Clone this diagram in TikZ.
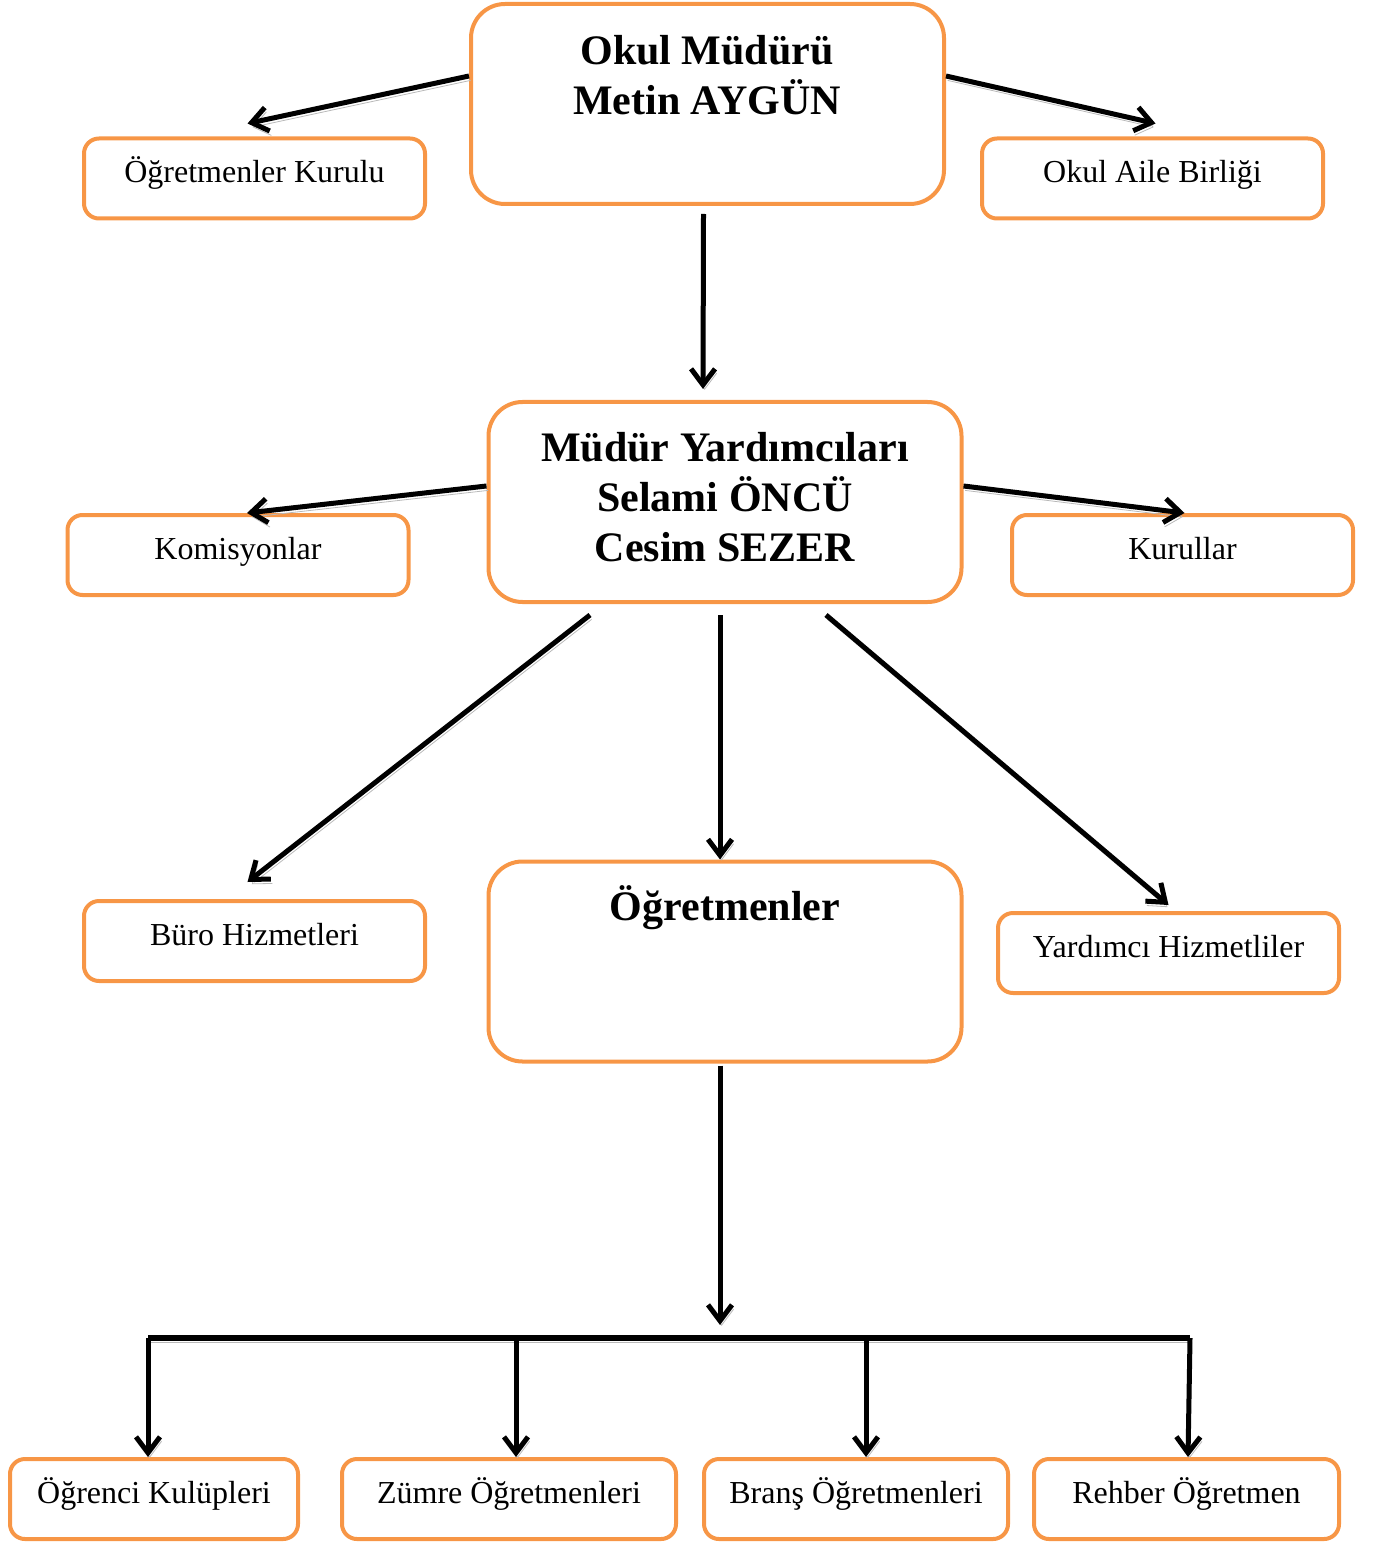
\documentclass[tikz,border=0pt]{standalone}
\usepackage{fontspec}
\setmainfont{Liberation Serif}
\usetikzlibrary{arrows.meta}
\definecolor{turuncu}{HTML}{F79646}
\begin{document}
\begin{tikzpicture}[x=0.5pt,y=-0.5pt]
        \tikzstyle{box} = [draw=turuncu, line width=2pt, rounded corners=7.5pt, minimum width=170.5pt, minimum height=40pt, inner sep=0pt, text height=10pt, text depth=6pt, font=\fontsize{16}{19}\selectfont]
        \tikzstyle{bigbox} = [box, rounded corners=17pt, minimum width=236.5pt, minimum height=100pt]
        \tikzstyle{title} = [align=center, inner sep=0pt, font=\fontsize{21}{25}\selectfont\bfseries]
        \tikzstyle{blk} = [draw, black, line width=2.5pt, -{Straight Barb[length=8pt,width=12pt]}, preaction={draw=gray!55, transform canvas={xshift=0.8pt,yshift=-2.2pt}}]
        \useasboundingbox (0,0) rectangle (1374,1545);
        
        \node[bigbox] (okul mudur) at (707.5,104) {};
        \node[title] (okul mudur adi) at (707,75) {Okul Müdürü\\Metin AYGÜN};
        \node[box] (ogretmenler kurulu) at (254.5,178.5) {Öğretmenler Kurulu};
        \node[box] (okul aile birligi) at (1152.5,178.5) {Okul Aile Birliği};
        
        \node[bigbox] (mudur yardimcilari) at (725,502) {};
        \node[title] (mudur yardimcilari adlari) at (725,497) {Müdür Yardımcıları\\Selami ÖNCÜ\\Cesim SEZER};
        \node[box] (komisyonlar) at (238,555) {Komisyonlar};
        \node[box] (kurullar) at (1182.5,555) {Kurullar};
        
        \node[box] (buro hizmetleri) at (254.5,941) {Büro Hizmetleri};
        \node[bigbox] (ogretmenler) at (725,961.5) {};
        \node[title] (ogretmenler adi) at (725,908) {Öğretmenler};
        \node[box] (yardimci hizmetliler) at (1168.5,953) {Yardımcı Hizmetliler};
        
        \node[box, minimum width=144pt] (ogrenci kulupleri) at (154,1499) {Öğrenci Kulüpleri};
        \node[box, minimum width=167pt] (zumre ogretmenleri) at (509,1499) {Zümre Öğretmenleri};
        \node[box, minimum width=152pt] (brans ogretmenleri) at (856,1499) {Branş Öğretmenleri};
        \node[box, minimum width=152.5pt] (rehber ogretmen) at (1186.5,1499) {Rehber Öğretmen};
        
        \coordinate (dagitim) at (720,1325);
        \coordinate (hat sol) at (148,1338);
        \coordinate (hat zumre) at (516,1338);
        \coordinate (hat brans) at (866,1338);
        \coordinate (hat sag) at (1190,1338);
        
        \path[blk] ([yshift=14pt]okul mudur.west) to ([xshift=-3.5pt,yshift=6.5pt]ogretmenler kurulu.north);
        \path[blk] ([yshift=14pt]okul mudur.east) to ([xshift=1.5pt,yshift=6.5pt]okul aile birligi.north);
        \path[blk] ([xshift=-2pt,yshift=-4pt]okul mudur.south) to ([xshift=-11pt,yshift=5.5pt]mudur yardimcilari.north);
        \path[blk] ([yshift=8pt]mudur yardimcilari.west) to ([xshift=4.5pt]komisyonlar.north);
        \path[blk] ([yshift=8pt]mudur yardimcilari.east) to ([xshift=1pt]kurullar.north);
        \path[blk] ([xshift=-67.5pt,yshift=-5.5pt]mudur yardimcilari.south) to ([xshift=-3.5pt,yshift=8.5pt]buro hizmetleri.north);
        \path[blk] ([xshift=-2.5pt,yshift=-5.5pt]mudur yardimcilari.south) to ([xshift=-2.5pt]ogretmenler.north);
        \path[blk] ([xshift=50.5pt,yshift=-5.5pt]mudur yardimcilari.south) to ([yshift=3pt]yardimci hizmetliler.north);
        \path[blk] ([xshift=-2.5pt,yshift=-1pt]ogretmenler.south) to (dagitim);
        \path[blk, -, line width=3pt] (hat sol) to (hat sag);
        \path[blk] (hat sol) to (hat sol |- ogrenci kulupleri.north);
        \path[blk] (hat zumre) to (hat zumre |- zumre ogretmenleri.north);
        \path[blk] (hat brans) to (hat brans |- brans ogretmenleri.north);
        \path[blk] (hat sag) to ([xshift=0.75pt]rehber ogretmen.north);
    \end{tikzpicture}
\end{document}
